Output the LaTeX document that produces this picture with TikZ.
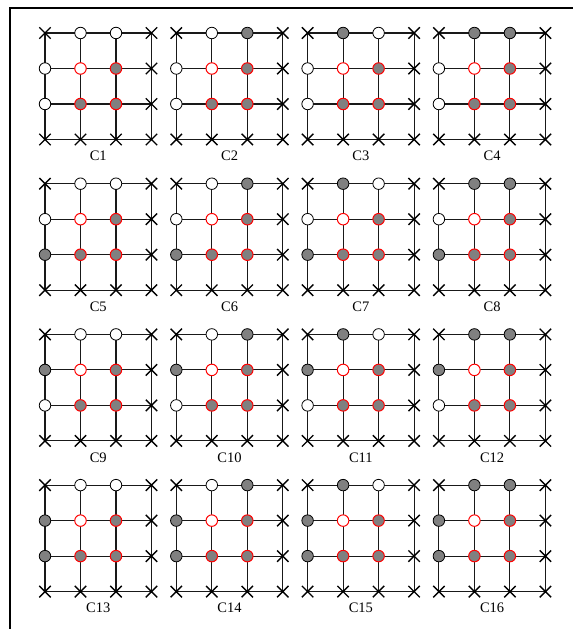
\documentclass[tikz,border=0pt]{standalone}
\usepackage{fontspec}
\setmainfont{Liberation Serif}
\usetikzlibrary{shapes.misc}

\begin{document}
\begin{tikzpicture}[
  x=1pt, y=-1pt,
  % Node styles
  free/.style={circle, draw=black, fill=white, minimum size=11.5pt, inner sep=0pt, line width=0.8pt},
  busy/.style={free, fill=black!50},
  core/.style={free, draw=red, line width=1pt},
  corebusy/.style={core, fill=black!50},
  state0/.style={free},
  state1/.style={busy},
  blocked/.style={cross out, draw=black, minimum size=10pt, inner sep=0pt, line width=1.4pt},
  caption/.style={font=\fontsize{14.5}{16}\selectfont, inner sep=1pt},
  gridline/.style={line width=1.1pt, color=black!90},
  frame/.style={line width=2pt}
]
  \useasboundingbox (0,0) rectangle (573,629);

  % frame (left and top edges)
  \coordinate (fbl) at (10,629);
  \coordinate (ftl) at (10,8);
  \coordinate (ftr) at (573,8);
  \draw[frame] (fbl) -- (ftl) -- (ftr);

  % ============================================
  % 16 configurations C1..C16
  % ============================================
  \foreach \k in {0,...,15} {
    \pgfmathtruncatemacro{\col}{mod(\k,4)}
    \pgfmathtruncatemacro{\row}{div(\k,4)}
    \pgfmathtruncatemacro{\num}{\k+1}
    % boundary states (0 = free, 1 = busy)
    \pgfmathtruncatemacro{\sb}{mod(\k,2)}
    \pgfmathtruncatemacro{\sa}{mod(div(\k,2),2)}
    \pgfmathtruncatemacro{\sd}{mod(div(\k,4),2)}
    \pgfmathtruncatemacro{\sc}{mod(div(\k,8),2)}
    \begin{scope}[shift={(45+131.3*\col,33+150.7*\row)}]
      % grid points
      \foreach \i in {0,...,3}
        \foreach \j in {0,...,3}
          \coordinate (p\num-\i-\j) at (35.5*\i,35.5*\j);
      % grid lines
      \foreach \i in {0,...,3} {
        \draw[gridline] (p\num-\i-0) -- (p\num-\i-3);
        \draw[gridline] (p\num-0-\i) -- (p\num-3-\i);
      }
      % blocked points
      \foreach \i/\j in {0/0,3/0,3/1,3/2,3/3,0/3,1/3,2/3}
        \node[blocked] (x\num-\i-\j) at (p\num-\i-\j) {};
      % inner points
      \node[core] (n\num-1-1) at (p\num-1-1) {};
      \node[corebusy] (n\num-2-1) at (p\num-2-1) {};
      \node[corebusy] (n\num-1-2) at (p\num-1-2) {};
      \node[corebusy] (n\num-2-2) at (p\num-2-2) {};
      % boundary points
      \node[state\sa] (n\num-1-0) at (p\num-1-0) {};
      \node[state\sb] (n\num-2-0) at (p\num-2-0) {};
      \node[state\sc] (n\num-0-1) at (p\num-0-1) {};
      \node[state\sd] (n\num-0-2) at (p\num-0-2) {};
      % caption
      \node[caption] (c\num) at (53.25,123) {C\num};
    \end{scope}
  }

\end{tikzpicture}
\end{document}
